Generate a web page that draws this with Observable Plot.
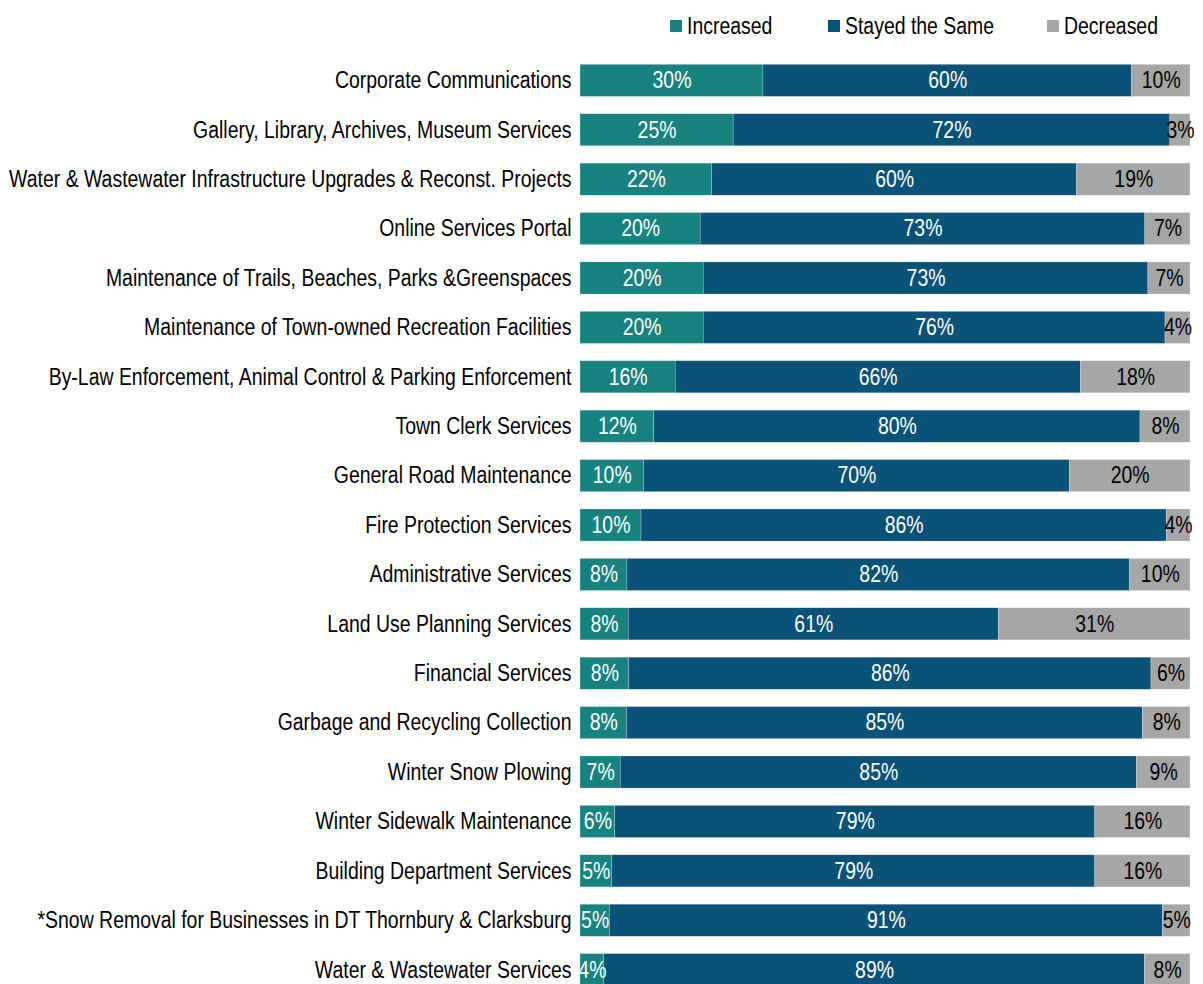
<!DOCTYPE html>
<html><head><meta charset="utf-8">
<script src="https://cdn.jsdelivr.net/npm/d3@7"></script>
<script src="https://cdn.jsdelivr.net/npm/@observablehq/plot@0.6"></script>
<style>
body{margin:0;background:#fff;font-family:"Liberation Sans","Arial",sans-serif;overflow:hidden}
#legend{position:relative;height:47px;width:1203px}
.item{position:absolute;top:13px;display:flex;align-items:center;font-size:23px;color:#000;line-height:26px}
.sw{width:12px;height:12px;margin-right:5px;display:inline-block}
.lt{display:inline-block;transform:scaleX(0.845);transform-origin:left center;white-space:nowrap}
</style></head>
<body>
<div id="legend"></div>
<div id="chart"></div>
<script>
const categories = [
  "Corporate Communications",
  "Gallery, Library, Archives, Museum Services",
  "Water & Wastewater Infrastructure Upgrades & Reconst. Projects",
  "Online Services Portal",
  "Maintenance of Trails, Beaches, Parks &Greenspaces",
  "Maintenance of Town-owned Recreation Facilities",
  "By-Law Enforcement, Animal Control & Parking Enforcement",
  "Town Clerk Services",
  "General Road Maintenance",
  "Fire Protection Services",
  "Administrative Services",
  "Land Use Planning Services",
  "Financial Services",
  "Garbage and Recycling Collection",
  "Winter Snow Plowing",
  "Winter Sidewalk Maintenance",
  "Building Department Services",
  "*Snow Removal for Businesses in DT Thornbury & Clarksburg",
  "Water & Wastewater Services"
];
const increased = [30.0, 25.1, 21.6, 19.7, 20.2, 20.2, 15.6, 12.1, 10.4, 10.0, 7.7, 7.9, 8.0, 7.6, 6.6, 5.7, 5.2, 4.8, 3.9];
const stayed    = [60.4, 71.6, 59.8, 72.9, 72.9, 75.7, 66.4, 79.7, 69.8, 86.1, 82.4, 60.7, 85.6, 84.6, 84.6, 78.7, 79.2, 90.7, 88.6];
const decreased = [ 9.6,  3.3, 18.6,  7.4,  6.9,  4.1, 18.0,  8.2, 19.8,  3.9,  9.9, 31.4,  6.4,  7.8,  8.8, 15.6, 15.6,  4.5,  7.5];
const seriesNames = ["Increased", "Stayed the Same", "Decreased"];
const seriesColors = ["#178280", "#0a5277", "#a6a6a6"];
const labelColors = ["#ffffff", "#ffffff", "#000000"];

const seriesValues = [increased, stayed, decreased];
const data = [];
categories.forEach((c, i) => {
  seriesNames.forEach((s, j) => data.push({cat: c, series: s, value: seriesValues[j][i]}));
});

const legend = document.getElementById("legend");
const legendX = [670, 828, 1047];
seriesNames.forEach((s, j) => {
  const it = document.createElement("div");
  it.className = "item";
  it.style.left = legendX[j] + "px";
  it.innerHTML = `<span class="sw" style="background:${seriesColors[j]}"></span><span class="lt">${s}</span>`;
  legend.appendChild(it);
});

const plot = Plot.plot({
  width: 1203,
  height: 956,
  marginLeft: 580,
  marginRight: 13,
  marginTop: 0,
  marginBottom: 0,
  style: {fontFamily: '"Liberation Sans","Arial",sans-serif', fontSize: "23px", background: "#fff"},
  x: {axis: null, domain: [0, 100]},
  y: {domain: categories, padding: 0.35, round: false, label: null, tickSize: 0, tickPadding: 9},
  color: {domain: seriesNames, range: seriesColors},
  marks: [
    Plot.barX(data, Plot.stackX({x: "value", y: "cat", z: "series", fill: "series", stroke: "#ffffff", strokeWidth: 0.4, strokeOpacity: 0.6})),
    Plot.text(data, Plot.stackX({
      x: "value", y: "cat", z: "series",
      text: d => Math.round(d.value) + "%",
      fill: d => labelColors[seriesNames.indexOf(d.series)],
      fontSize: 23
    }))
  ]
});
plot.querySelectorAll("g[aria-label='y-axis tick label'] text").forEach(t => t.setAttribute("fill", "#000"));
document.getElementById("chart").appendChild(plot);
const squeeze = 0.845;
plot.querySelectorAll("text").forEach(t => {
  const L = t.getComputedTextLength();
  if (L > 0) {
    t.setAttribute("textLength", (L * squeeze).toFixed(2));
    t.setAttribute("lengthAdjust", "spacingAndGlyphs");
  }
});
</script>
</body></html>
